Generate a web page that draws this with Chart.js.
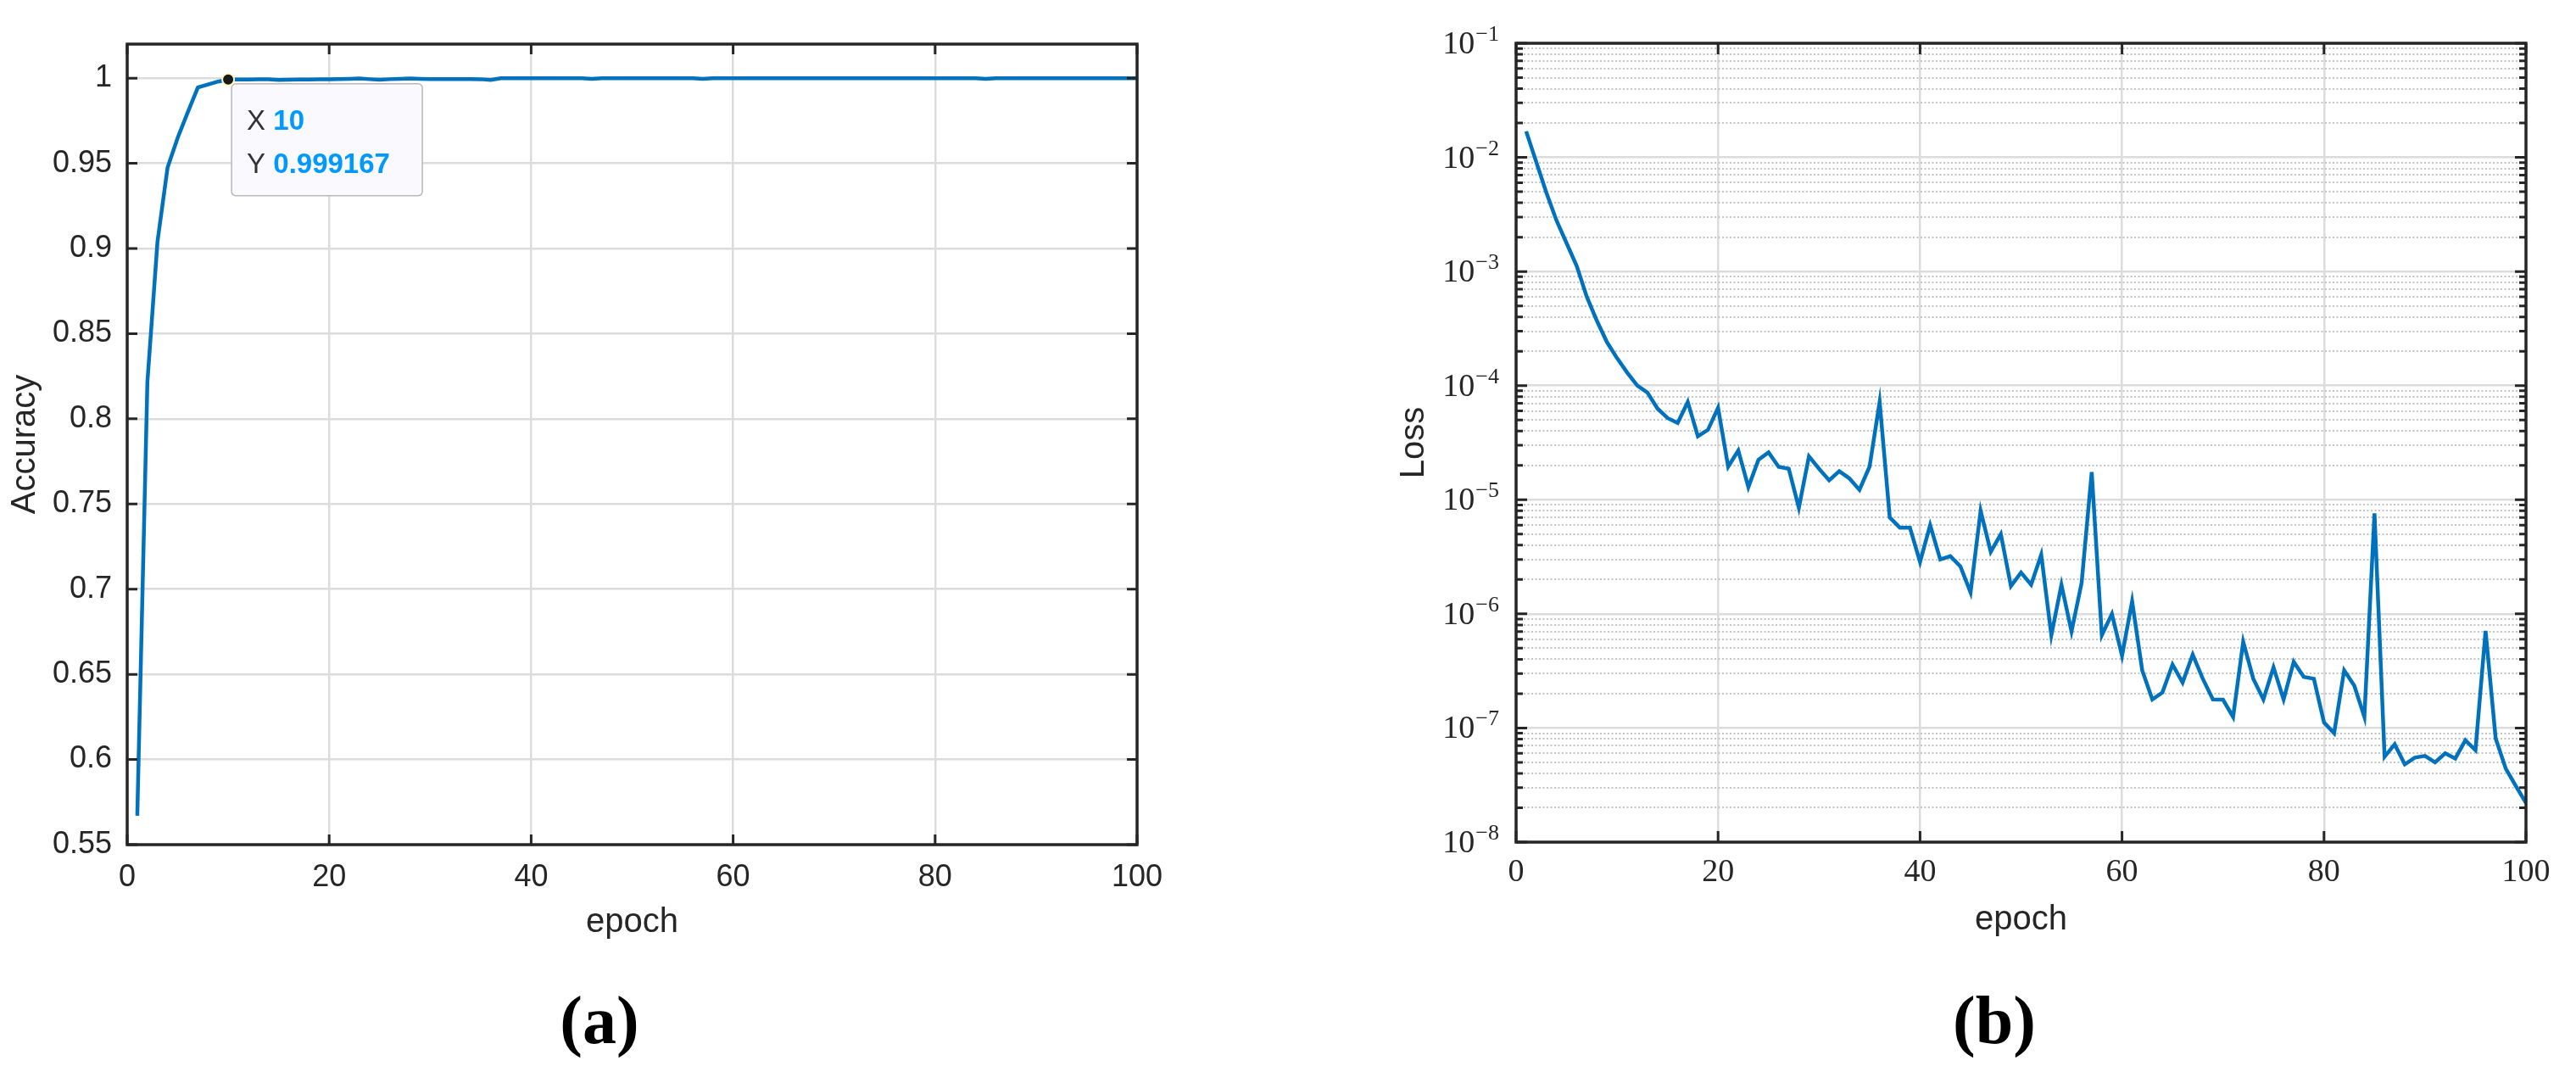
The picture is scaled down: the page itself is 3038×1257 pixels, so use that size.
<!DOCTYPE html>
<html>
<head>
<meta charset="utf-8">
<script src="https://cdn.jsdelivr.net/npm/chart.js@4.4.1/dist/chart.umd.min.js"></script>
<style>
  html, body { margin: 0; padding: 0; background: #fff; }
  body { width: 3038px; height: 1257px; position: relative; overflow: hidden; }
  canvas { position: absolute; top: 0; }
  #accChart { left: 0; }
  #lossChart { left: 1580px; }
  .caption { position: absolute; top: 1153px; width: 300px; text-align: center;
             font: bold 80px "Liberation Serif", serif; line-height: 100px; color: #000; }
</style>
</head>
<body>
<canvas id="accChart" width="1420" height="1140"></canvas>
<canvas id="lossChart" width="1458" height="1140"></canvas>
<div class="caption" style="left:557px">(a)</div>
<div class="caption" style="left:2202px">(b)</div>
<script>
// values, epochs 1..100
const accuracy = [
  0.567, 0.8215, 0.904, 0.9476, 0.965, 0.980, 0.9945, 0.9963, 0.998, 0.999167,
  0.9992, 0.9992, 0.9993, 0.9993, 0.9990, 0.9991, 0.9992, 0.9992, 0.9993, 0.9993,
  0.9995, 0.9996, 0.9998, 0.9994, 0.9991, 0.9994, 0.9996, 0.9998, 0.9996, 0.9995,
  0.9995, 0.9995, 0.9995, 0.9995, 0.9994, 0.9990, 1, 1, 1, 1,
  1, 1, 1, 1, 1, 0.9996, 1, 1, 1, 1,
  1, 1, 1, 1, 1, 1, 0.9996, 1, 1, 1,
  1, 1, 1, 1, 1, 1, 1, 1, 1, 1,
  1, 1, 1, 1, 1, 1, 1, 1, 1, 1,
  1, 1, 1, 1, 0.9996, 1, 1, 1, 1, 1,
  1, 1, 1, 1, 1, 1, 1, 1, 1, 1
];

const loss = [
  1.69e-2, 9.1e-3, 4.9e-3, 2.8e-3, 1.77e-3, 1.12e-3, 6.0e-4, 3.7e-4, 2.4e-4, 1.74e-4,
  1.3e-4, 1.0e-4, 8.7e-5, 6.3e-5, 5.2e-5, 4.7e-5, 7.2e-5, 3.6e-5, 4.1e-5, 6.4e-5,
  1.95e-5, 2.7e-5, 1.29e-5, 2.24e-5, 2.6e-5, 1.94e-5, 1.87e-5, 8.5e-6, 2.4e-5, 1.87e-5,
  1.48e-5, 1.78e-5, 1.54e-5, 1.22e-5, 1.95e-5, 7.2e-5, 7.0e-6, 5.7e-6, 5.7e-6, 2.85e-6,
  6.0e-6, 3.0e-6, 3.2e-6, 2.6e-6, 1.54e-6, 8.0e-6, 3.5e-6, 5.0e-6, 1.75e-6, 2.3e-6,
  1.8e-6, 3.3e-6, 6.5e-7, 1.8e-6, 7.0e-7, 1.87e-6, 1.75e-5, 6.5e-7, 1.0e-6, 4.3e-7,
  1.29e-6, 3.2e-7, 1.78e-7, 2.05e-7, 3.6e-7, 2.5e-7, 4.4e-7, 2.7e-7, 1.78e-7, 1.77e-7,
  1.25e-7, 5.7e-7, 2.7e-7, 1.78e-7, 3.4e-7, 1.78e-7, 3.8e-7, 2.8e-7, 2.7e-7, 1.12e-7,
  9.0e-8, 3.2e-7, 2.35e-7, 1.25e-7, 7.6e-6, 5.6e-8, 7.2e-8, 4.8e-8, 5.5e-8, 5.7e-8,
  5.0e-8, 6.0e-8, 5.4e-8, 7.8e-8, 6.4e-8, 7.1e-7, 8.1e-8, 4.4e-8, 3.1e-8, 2.2e-8
];

const epochTicks = [0, 20, 40, 60, 80, 100];
const accTicks = [0.55, 0.6, 0.65, 0.7, 0.75, 0.8, 0.85, 0.9, 0.95, 1];
const lossDecades = [1e-8, 1e-7, 1e-6, 1e-5, 1e-4, 1e-3, 1e-2, 1e-1];
const tipEpoch = 10;

const epochs = [];
for (let i = 1; i <= accuracy.length; i++) epochs.push(i);

// log ticks: each decade plus 2..9 minor steps
const lossTicks = [];
for (let i = 0; i < lossDecades.length; i++) {
  lossTicks.push(lossDecades[i]);
  if (i < lossDecades.length - 1) {
    for (let m = 2; m <= 9; m++) lossTicks.push(m * lossDecades[i]);
  }
}

function isDecade(v) {
  const l = Math.log10(v);
  return Math.abs(l - Math.round(l)) < 1e-6;
}

const axisColor = '#262626';
const gridColor = '#dcdcdc';
const sans = '"Liberation Sans", Arial, sans-serif';
const serif = '"Liberation Serif", "Times New Roman", serif';

Chart.defaults.font.family = sans;
Chart.defaults.color = axisColor;

// matlab-like box with inward ticks on all four sides
const matlabBox = {
  id: 'matlabBox',
  afterDatasetsDraw(chart, args, opts) {
    const {ctx, chartArea: a, scales: {x, y}} = chart;
    ctx.save();
    ctx.strokeStyle = axisColor;
    ctx.lineWidth = 3;
    ctx.beginPath();
    x.ticks.forEach(t => {
      const px = x.getPixelForValue(t.value);
      ctx.moveTo(px, a.bottom); ctx.lineTo(px, a.bottom - opts.len);
      ctx.moveTo(px, a.top); ctx.lineTo(px, a.top + opts.len);
    });
    y.ticks.forEach(t => {
      const py = y.getPixelForValue(t.value);
      const len = (opts.log && !isDecade(t.value)) ? opts.minorLen : opts.len;
      ctx.moveTo(a.left, py); ctx.lineTo(a.left + len, py);
      ctx.moveTo(a.right, py); ctx.lineTo(a.right - len, py);
    });
    ctx.stroke();
    ctx.lineWidth = 3.5;
    ctx.strokeRect(a.left, a.top, a.width, a.height);
    ctx.restore();
  }
};

// data tip at the epoch-10 point
const dataTip = {
  id: 'dataTip',
  afterDraw(chart) {
    const {ctx, scales: {x, y}} = chart;
    const val = accuracy[tipEpoch - 1];
    const px = x.getPixelForValue(tipEpoch);
    const py = y.getPixelForValue(val);
    ctx.save();
    const bx = px + 4, by = py + 5, bw = 225, bh = 132;
    ctx.beginPath();
    if (ctx.roundRect) ctx.roundRect(bx, by, bw, bh, 5); else ctx.rect(bx, by, bw, bh);
    ctx.fillStyle = '#f9f9fe';
    ctx.fill();
    ctx.lineWidth = 1.5;
    ctx.strokeStyle = '#b8b8b8';
    ctx.stroke();

    const lines = [['X ', String(tipEpoch)], ['Y ', String(val)]];
    lines.forEach((ln, i) => {
      const ty = by + 54 + i * 51;
      ctx.font = '33px ' + sans;
      ctx.fillStyle = '#333';
      ctx.textBaseline = 'alphabetic';
      ctx.fillText(ln[0], bx + 18, ty);
      const w = ctx.measureText(ln[0]).width;
      ctx.font = 'bold 33px ' + sans;
      ctx.fillStyle = '#0099ff';
      ctx.fillText(ln[1], bx + 18 + w, ty);
    });

    ctx.beginPath();
    ctx.arc(px, py, 7, 0, Math.PI * 2);
    ctx.fillStyle = '#1a1a1a';
    ctx.fill();
    ctx.lineWidth = 2;
    ctx.strokeStyle = '#fff6c0';
    ctx.stroke();
    ctx.restore();
  }
};

// 10^-n labels with raised exponent
const expLabels = {
  id: 'expLabels',
  afterDraw(chart) {
    const {ctx, chartArea: a, scales: {y}} = chart;
    const right = a.left - 20;
    ctx.save();
    ctx.fillStyle = axisColor;
    ctx.textAlign = 'right';
    ctx.textBaseline = 'alphabetic';
    lossDecades.forEach(v => {
      const py = y.getPixelForValue(v);
      const exp = '\u2212' + Math.abs(Math.round(Math.log10(v)));
      ctx.font = '26px ' + serif;
      const w = ctx.measureText(exp).width;
      ctx.fillText(exp, right, py - 3);
      ctx.font = '38px ' + serif;
      ctx.fillText('10', right - w - 1, py + 12);
    });
    ctx.restore();
  }
};

new Chart(document.getElementById('accChart'), {
  type: 'line',
  data: {
    datasets: [{
      data: epochs.map((e, i) => ({x: e, y: accuracy[i]})),
      borderColor: '#0072bd',
      borderWidth: 4.5,
      pointRadius: 0,
      tension: 0,
      fill: false
    }]
  },
  options: {
    responsive: false,
    animation: false,
    devicePixelRatio: 1,
    layout: {padding: {top: 52, right: 79, left: 0, bottom: 0}},
    plugins: {
      legend: {display: false},
      tooltip: {enabled: false},
      matlabBox: {len: 12, minorLen: 12, log: false}
    },
    scales: {
      x: {
        type: 'linear', min: 0, max: 100,
        afterBuildTicks: s => { s.ticks = epochTicks.map(v => ({value: v})); },
        afterFit: s => { s.height = 144; },
        grid: {color: gridColor, lineWidth: 2.5, drawTicks: false},
        border: {display: false},
        ticks: {padding: 17, font: {size: 36}, color: axisColor, maxRotation: 0, autoSkip: false},
        title: {display: true, text: 'epoch', font: {size: 40}, color: axisColor, padding: {top: 0, bottom: 28}}
      },
      y: {
        type: 'linear', min: 0.55, max: 1.02,
        afterBuildTicks: s => { s.ticks = accTicks.map(v => ({value: v})); },
        afterFit: s => { s.width = 150; },
        grid: {color: gridColor, lineWidth: 2.5, drawTicks: false},
        border: {display: false},
        ticks: {padding: 18, font: {size: 36}, color: axisColor, autoSkip: false,
                callback: v => String(Number(v.toFixed(2)))},
        title: {display: true, text: 'Accuracy', font: {size: 40}, color: axisColor, padding: {top: 6, bottom: 0}}
      }
    }
  },
  plugins: [matlabBox, dataTip]
});

new Chart(document.getElementById('lossChart'), {
  type: 'line',
  data: {
    datasets: [{
      data: epochs.map((e, i) => ({x: e, y: loss[i]})),
      borderColor: '#0072bd',
      borderWidth: 4.5,
      pointRadius: 0,
      tension: 0,
      fill: false
    }]
  },
  options: {
    responsive: false,
    animation: false,
    devicePixelRatio: 1,
    layout: {padding: {top: 51, right: 59, left: 0, bottom: 0}},
    plugins: {
      legend: {display: false},
      tooltip: {enabled: false},
      matlabBox: {len: 13, minorLen: 8, log: true}
    },
    scales: {
      x: {
        type: 'linear', min: 0, max: 100,
        afterBuildTicks: s => { s.ticks = epochTicks.map(v => ({value: v})); },
        afterFit: s => { s.height = 147; },
        grid: {color: gridColor, lineWidth: 2.5, drawTicks: false},
        border: {display: false},
        ticks: {padding: 13, font: {size: 38, family: serif}, color: axisColor, maxRotation: 0, autoSkip: false},
        title: {display: true, text: 'epoch', font: {size: 40}, color: axisColor, padding: {top: 0, bottom: 31}}
      },
      y: {
        type: 'logarithmic', min: 1e-8, max: 1e-1,
        afterBuildTicks: s => { s.ticks = lossTicks.map(v => ({value: v})); },
        afterFit: s => { s.width = 208; },
        grid: {
          drawTicks: false,
          color: c => (c.tick && isDecade(c.tick.value)) ? gridColor : '#c4c4c4',
          lineWidth: c => (c.tick && isDecade(c.tick.value)) ? 2.5 : 2
        },
        border: {display: false, dash: c => (c.tick && isDecade(c.tick.value)) ? [] : [2, 2.5]},
        ticks: {display: false, autoSkip: false},
        title: {display: true, text: 'Loss', font: {size: 40}, color: axisColor, padding: {top: 64, bottom: 0}}
      }
    }
  },
  plugins: [matlabBox, expLabels]
});
</script>
</body>
</html>
